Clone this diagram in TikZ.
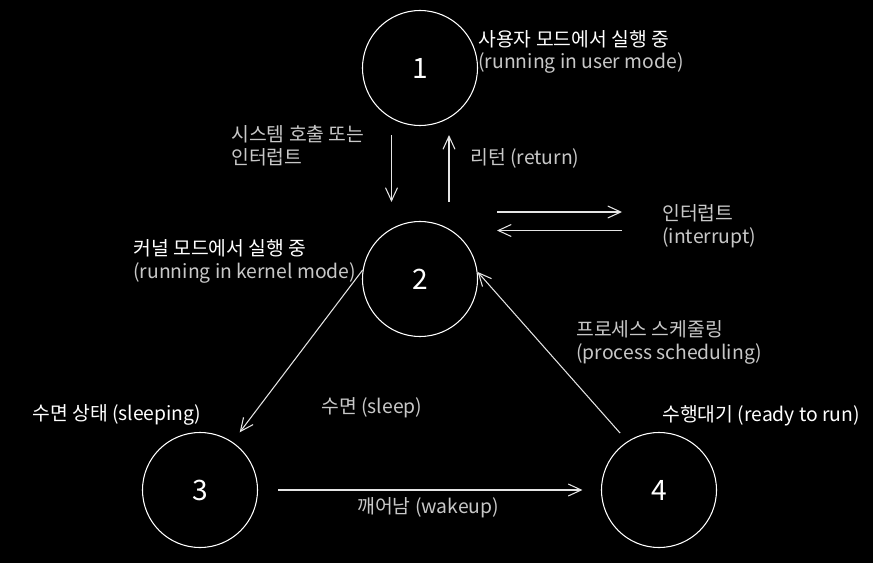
\documentclass[tikz,border=0pt]{standalone}
\usepackage{fontspec}
\setmainfont{Noto Sans CJK KR}
\usepackage{tikz}
\usetikzlibrary{arrows.meta}
\definecolor{soft}{RGB}{200,200,200}
\tikzstyle{state} = [circle, minimum size=2.3cm, inner sep=0pt, draw=white, line width=0.6pt, text=white, font=\fontsize{16}{18}\selectfont]
\tikzstyle{statetext} = [anchor=west, align=left, inner sep=0pt, text=white, font=\fontsize{11}{13}\selectfont]
\tikzstyle{edgetext} = [anchor=west, align=left, inner sep=0pt, text=soft, font=\fontsize{11}{13}\selectfont]
\tikzstyle{arrow} = [draw=white!90!black, line width=0.6pt, -{Straight Barb[length=0.26cm, width=0.24cm]}]

\begin{document}
\begin{tikzpicture}[node distance=4.22cm]
\fill[black] (0,0) rectangle (17.46,-11.26);
\node (s1) [state] at (8.4,-1.36) {1};
\node (s2) [state, below of=s1] {2};
\node (s3) [state, below of=s2, xshift=-4.4cm] {3};
\node (s4) [state, below of=s2, xshift=4.78cm] {4};
\node (l1) [statetext] at (9.56,-1.04) {사용자 모드에서 실행 중\\\textcolor{soft}{(running in user mode)}};
\node (l2) [statetext] at (2.66,-5.22) {커널 모드에서 실행 중\\\textcolor{soft}{(running in kernel mode)}};
\node (l3) [statetext] at (0.64,-8.3) {수면 상태 (sleeping)};
\node (l4) [statetext] at (13.24,-8.32) {수행대기 (ready to run)};
\node (syscall) [edgetext] at (4.62,-2.92) {시스템 호출 또는\\인터럽트};
\node (ret) [edgetext] at (9.4,-3.16) {리턴 (return)};
\node (intr) [edgetext] at (13.24,-4.52) {인터럽트\\(interrupt)};
\node (sched) [edgetext] at (11.52,-6.84) {프로세스 스케줄링\\(process scheduling)};
\node (sleep) [edgetext] at (6.42,-8.16) {수면 (sleep)};
\node (wake) [edgetext] at (7.14,-10.16) {깨어남 (wakeup)};
\coordinate (ia) at (9.94,-4.24);
\coordinate (ib) at (12.44,-4.24);
\coordinate (ic) at (12.44,-4.61);
\coordinate (id) at (9.94,-4.61);
\draw [arrow] ([xshift=-0.57cm, yshift=-0.18cm]s1.south) -- ([xshift=-0.57cm, yshift=0.38cm]s2.north);
\draw [arrow] ([xshift=0.58cm, yshift=0.38cm]s2.north) -- ([xshift=0.58cm, yshift=-0.18cm]s1.south);
\draw [arrow] (ia) -- (ib);
\draw [arrow] (ic) -- (id);
\draw [arrow, shorten >=0.24cm] (s2.171) -- (s3.56);
\draw [arrow, shorten <=0.22cm] (s4.123) -- (s2.7);
\draw [arrow, shorten <=0.4cm, shorten >=0.37cm] (s3) -- (s4);
\end{tikzpicture}
\end{document}
